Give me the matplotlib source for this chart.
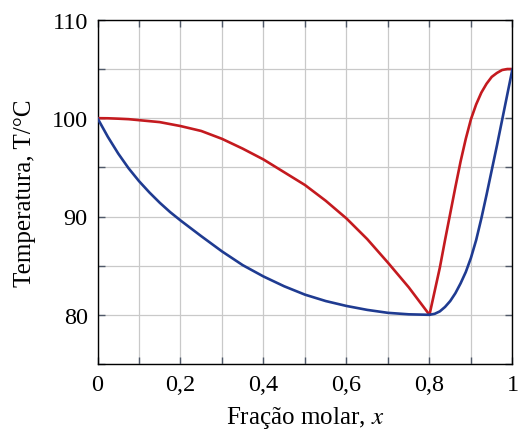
import numpy as np
import matplotlib
matplotlib.use("Agg")
import matplotlib.pyplot as plt
from matplotlib.ticker import MultipleLocator, FuncFormatter

# fração molar x e temperaturas (curvas vapor / líquido)
x_left = [0.0, 0.025, 0.05, 0.075, 0.1, 0.125, 0.15, 0.175, 0.2, 0.25, 0.3, 0.35, 0.4,
          0.45, 0.5, 0.55, 0.6, 0.65, 0.7, 0.75, 0.8]
t_vap_left = [100.0, 99.99, 99.95, 99.9, 99.8, 99.7, 99.6, 99.4, 99.2, 98.7, 97.9, 96.9, 95.8,
              94.5, 93.2, 91.6, 89.8, 87.7, 85.3, 82.8, 80.0]
t_liq_left = [100.0, 98.1, 96.4, 94.9, 93.6, 92.45, 91.4, 90.45, 89.6, 88.0, 86.45, 85.05, 83.9,
              82.9, 82.05, 81.4, 80.9, 80.5, 80.2, 80.05, 80.0]

x_right = [0.8, 0.8125, 0.825, 0.8375, 0.85, 0.8625, 0.875, 0.8875, 0.9,
           0.9125, 0.925, 0.9375, 0.95, 0.9625, 0.975, 0.9875, 1.0]
t_vap_right = [80.0, 82.4, 84.8, 87.6, 90.3, 93.0, 95.6, 97.9, 99.9,
               101.4, 102.6, 103.5, 104.2, 104.6, 104.9, 105.0, 105.0]
t_liq_right = [80.0, 80.1, 80.35, 80.8, 81.4, 82.2, 83.2, 84.35, 85.8,
               87.6, 89.8, 92.2, 94.7, 97.2, 99.8, 102.4, 105.0]

red = "#c41a1f"
blue = "#1f3b91"

plt.rcParams["font.family"] = ["Liberation Serif", "DejaVu Serif"]
plt.rcParams["mathtext.fontset"] = "stix"

fig = plt.figure(figsize=(5.2, 4.35), dpi=100)
ax = fig.add_axes([0.1875, 0.161, 0.798, 0.791])

kw = dict(lw=1.9, solid_capstyle="round", solid_joinstyle="round")
ax.plot(x_left, t_vap_left, color=red, zorder=3, **kw)
ax.plot(x_right, t_vap_right, color=red, zorder=3, **kw)
ax.plot(x_left, t_liq_left, color=blue, zorder=4, **kw)
ax.plot(x_right, t_liq_right, color=blue, zorder=4, **kw)

ax.set_xlim(0, 1)
ax.set_ylim(75, 110)

ax.xaxis.set_major_locator(MultipleLocator(0.2))
ax.xaxis.set_minor_locator(MultipleLocator(0.1))
ax.yaxis.set_major_locator(MultipleLocator(10))
ax.yaxis.set_minor_locator(MultipleLocator(5))
ax.xaxis.set_major_formatter(FuncFormatter(lambda v, p: ("%g" % round(v, 1)).replace(".", ",")))
ax.yaxis.set_major_formatter(FuncFormatter(lambda v, p: "%d" % v))

ax.grid(True, which="both", color="#c9c9c9", lw=0.9, zorder=0)
ax.set_axisbelow(True)
ax.tick_params(which="both", direction="in", top=True, right=True, length=5,
               width=1.0, color="#4f5868", labelsize=17.5, pad=7)
for s in ax.spines.values():
    s.set_linewidth(1.0)
    s.set_color("black")

ax.set_xlabel("Fração molar, $x$", fontsize=18, labelpad=7)
ax.set_ylabel("Temperatura, T/°C", fontsize=18, labelpad=11)

fig.savefig("out.png", dpi=100)
